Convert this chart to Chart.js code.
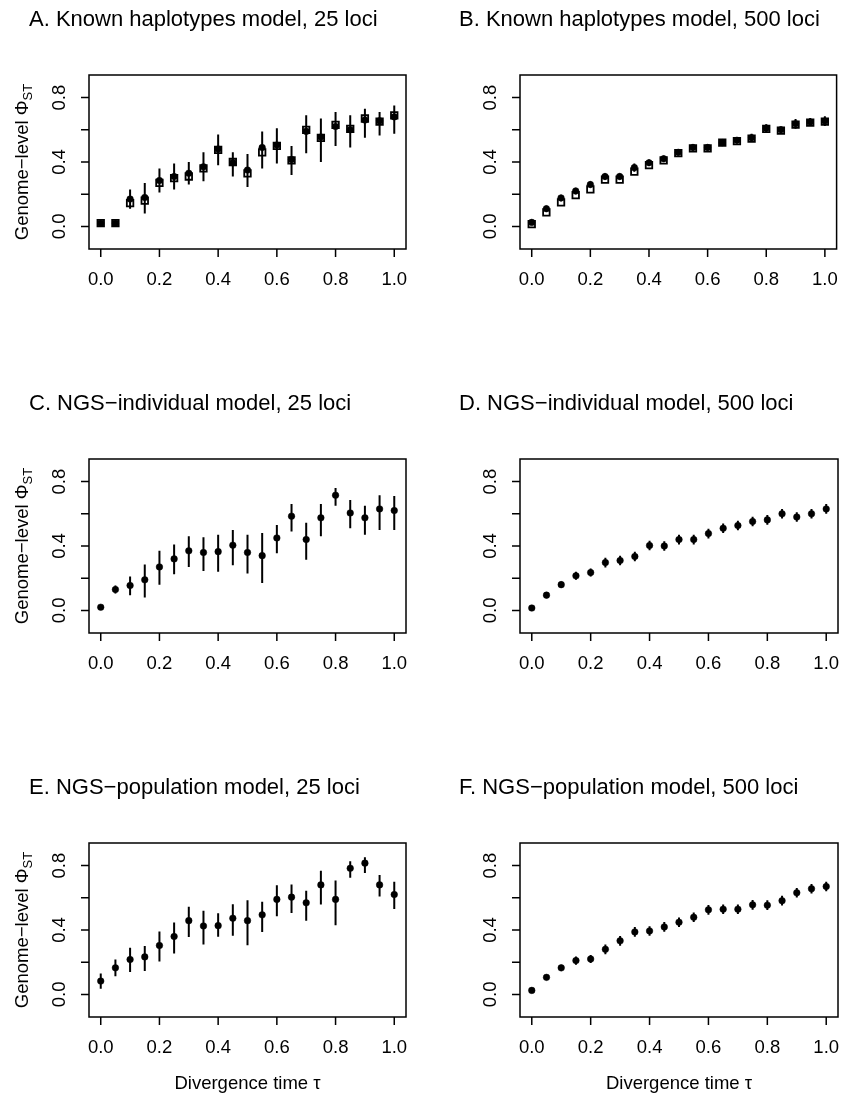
<!DOCTYPE html>
<html>
<head>
<meta charset="utf-8">
<script src="https://cdn.jsdelivr.net/npm/chart.js@4.4.1/dist/chart.umd.min.js"></script>
<style>
  body { margin: 0; background: #fff; }
  #wrap { position: relative; width: 843px; height: 1097px; }
  #wrap canvas { position: absolute; }
</style>
</head>
<body>
<div id="wrap"></div>
<script>
const FONT = '"Liberation Sans", Arial, Helvetica, sans-serif';

// divergence time values (x)
const tau = [0, 0.05, 0.1, 0.15, 0.2, 0.25, 0.3, 0.35, 0.4, 0.45, 0.5,
             0.55, 0.6, 0.65, 0.7, 0.75, 0.8, 0.85, 0.9, 0.95, 1.0];
const xTicks = [0, 0.2, 0.4, 0.6, 0.8, 1.0];
const yTicks = [0, 0.2, 0.4, 0.6, 0.8];
const yTickLabels = [0, 0.4, 0.8];

const titles = [
    'A. Known haplotypes model, 25 loci',
    'B. Known haplotypes model, 500 loci',
    'C. NGS\u2212individual model, 25 loci',
    'D. NGS\u2212individual model, 500 loci',
    'E. NGS\u2212population model, 25 loci',
    'F. NGS\u2212population model, 500 loci'
];

// A: 25 loci, known haplotypes
const aMean = [0.02, 0.02, 0.17, 0.18, 0.285, 0.31, 0.33, 0.37, 0.48, 0.395, 0.35,
               0.49, 0.505, 0.415, 0.59, 0.555, 0.62, 0.60, 0.66, 0.655, 0.68];
const aTrue = [0.02, 0.02, 0.145, 0.16, 0.27, 0.30, 0.31, 0.36, 0.475, 0.40, 0.33,
               0.46, 0.50, 0.41, 0.60, 0.55, 0.63, 0.605, 0.67, 0.65, 0.69];
const aLo = [0.015, 0.015, 0.11, 0.08, 0.21, 0.23, 0.26, 0.28, 0.38, 0.31, 0.245,
             0.36, 0.39, 0.32, 0.455, 0.40, 0.50, 0.49, 0.55, 0.565, 0.575];
const aHi = [0.025, 0.025, 0.23, 0.27, 0.36, 0.39, 0.40, 0.46, 0.57, 0.46, 0.45,
             0.59, 0.61, 0.50, 0.69, 0.67, 0.71, 0.69, 0.73, 0.71, 0.75];

// B: 500 loci, known haplotypes
const bMean = [0.025, 0.11, 0.177, 0.22, 0.26, 0.31, 0.31, 0.365, 0.395, 0.42, 0.46,
               0.49, 0.49, 0.52, 0.535, 0.55, 0.61, 0.60, 0.637, 0.648, 0.654];
const bTrue = [0.015, 0.087, 0.15, 0.195, 0.23, 0.29, 0.29, 0.34, 0.38, 0.41, 0.455,
               0.485, 0.485, 0.52, 0.53, 0.545, 0.605, 0.595, 0.632, 0.645, 0.65];
const bErr = [0.01, 0.02, 0.02, 0.02, 0.02, 0.02, 0.02, 0.025, 0.02, 0.02, 0.02,
              0.02, 0.02, 0.02, 0.02, 0.025, 0.025, 0.02, 0.03, 0.025, 0.03];

// C: 25 loci, NGS-individual
const cMean = [0.02, 0.13, 0.155, 0.19, 0.27, 0.32, 0.37, 0.36, 0.365, 0.405, 0.36,
               0.34, 0.45, 0.585, 0.44, 0.575, 0.715, 0.605, 0.575, 0.63, 0.62];
const cLo = [0.02, 0.105, 0.095, 0.08, 0.16, 0.225, 0.27, 0.245, 0.24, 0.28, 0.23,
             0.17, 0.355, 0.49, 0.315, 0.46, 0.65, 0.51, 0.47, 0.50, 0.50];
const cHi = [0.02, 0.155, 0.21, 0.285, 0.37, 0.41, 0.46, 0.455, 0.47, 0.50, 0.47,
             0.48, 0.53, 0.66, 0.545, 0.66, 0.76, 0.685, 0.65, 0.715, 0.71];

// D: 500 loci, NGS-individual
const dMean = [0.015, 0.095, 0.16, 0.215, 0.235, 0.297, 0.31, 0.335, 0.403, 0.40, 0.44,
               0.44, 0.477, 0.51, 0.527, 0.552, 0.562, 0.60, 0.58, 0.60, 0.63];
const dErr = [0.005, 0.02, 0.02, 0.025, 0.025, 0.03, 0.03, 0.03, 0.03, 0.03, 0.03,
              0.03, 0.03, 0.03, 0.03, 0.03, 0.03, 0.03, 0.03, 0.03, 0.03];

// E: 25 loci, NGS-population
const eMean = [0.083, 0.165, 0.217, 0.233, 0.304, 0.36, 0.458, 0.425, 0.427, 0.473, 0.458,
               0.494, 0.59, 0.604, 0.569, 0.68, 0.59, 0.783, 0.815, 0.68, 0.62];
const eLo = [0.035, 0.113, 0.14, 0.146, 0.204, 0.254, 0.356, 0.31, 0.358, 0.365, 0.306,
             0.388, 0.485, 0.506, 0.458, 0.558, 0.43, 0.725, 0.754, 0.608, 0.53];
const eHi = [0.13, 0.217, 0.29, 0.30, 0.39, 0.446, 0.544, 0.52, 0.504, 0.56, 0.585,
             0.575, 0.677, 0.683, 0.644, 0.767, 0.708, 0.827, 0.852, 0.742, 0.70];

// F: 500 loci, NGS-population
const fMean = [0.025, 0.106, 0.165, 0.21, 0.22, 0.28, 0.333, 0.388, 0.394, 0.419, 0.448,
               0.479, 0.525, 0.529, 0.529, 0.556, 0.554, 0.582, 0.631, 0.656, 0.67];
const fErr = [0.005, 0.015, 0.02, 0.025, 0.025, 0.03, 0.03, 0.03, 0.03, 0.03, 0.03,
              0.03, 0.03, 0.03, 0.03, 0.03, 0.03, 0.03, 0.03, 0.03, 0.03];

const lower = (m, e) => m.map((v, i) => v - e[i]);
const upper = (m, e) => m.map((v, i) => v + e[i]);

const panels = [
    { mean: aMean, ref: aTrue, lo: aLo, hi: aHi },
    { mean: bMean, ref: bTrue, lo: lower(bMean, bErr), hi: upper(bMean, bErr) },
    { mean: cMean, lo: cLo, hi: cHi },
    { mean: dMean, lo: lower(dMean, dErr), hi: upper(dMean, dErr) },
    { mean: eMean, lo: eLo, hi: eHi },
    { mean: fMean, lo: lower(fMean, fErr), hi: upper(fMean, fErr) }
];

// canvas placement for the two columns and three rows
const cols = [{ left: 0, width: 430, padL: 89, padR: 24, titleX: 29 },
              { left: 430, width: 413, padL: 90, padR: 5, titleX: 29 }];
const rows = [{ top: 0, height: 384 }, { top: 384, height: 384 }, { top: 768, height: 329 }];

const rAxes = {
    id: 'rAxes',
    beforeDatasetDraw(chart, args, opts) {
        // error bars go under the filled means, above the open squares
        if (args.index !== 0) return;
        const { ctx, scales: { x, y } } = chart;
        const p = opts.panel;
        ctx.save();
        ctx.strokeStyle = '#000';
        ctx.lineWidth = 2;
        ctx.beginPath();
        tau.forEach((t, i) => {
            const px = x.getPixelForValue(t);
            ctx.moveTo(px, y.getPixelForValue(p.lo[i]));
            ctx.lineTo(px, y.getPixelForValue(p.hi[i]));
        });
        ctx.stroke();
        ctx.restore();
    },
    afterDraw(chart, args, opts) {
        const { ctx, chartArea: a, scales: { x, y } } = chart;
        ctx.save();
        ctx.strokeStyle = '#000';
        ctx.fillStyle = '#000';
        ctx.lineWidth = 1.5;
        ctx.strokeRect(a.left, a.top, a.right - a.left, a.bottom - a.top);

        ctx.beginPath();
        xTicks.forEach(v => {
            const px = x.getPixelForValue(v);
            ctx.moveTo(px, a.bottom);
            ctx.lineTo(px, a.bottom + 8);
        });
        yTicks.forEach(v => {
            const py = y.getPixelForValue(v);
            ctx.moveTo(a.left, py);
            ctx.lineTo(a.left - 8, py);
        });
        ctx.stroke();

        ctx.font = '18.5px ' + FONT;
        ctx.textAlign = 'center';
        ctx.textBaseline = 'alphabetic';
        xTicks.forEach(v => {
            ctx.fillText(v.toFixed(1), x.getPixelForValue(v), a.bottom + 36);
        });
        yTickLabels.forEach(v => {
            ctx.save();
            ctx.translate(a.left - 24, y.getPixelForValue(v));
            ctx.rotate(-Math.PI / 2);
            ctx.fillText(v.toFixed(1), 0, 0);
            ctx.restore();
        });

        // panel title
        ctx.font = '22px ' + FONT;
        ctx.textAlign = 'left';
        ctx.fillText(opts.title, opts.titleX, a.top - 49);

        // y axis title on the left column
        if (opts.col === 0) {
            const main = 'Genome\u2212level \u03A6';
            const sub = 'ST';
            ctx.font = '18.5px ' + FONT;
            const w1 = ctx.measureText(main).width;
            ctx.font = '13px ' + FONT;
            const w2 = ctx.measureText(sub).width;
            const total = w1 + w2;
            ctx.save();
            ctx.translate(0, (a.top + a.bottom) / 2);
            ctx.rotate(-Math.PI / 2);
            ctx.font = '18.5px ' + FONT;
            ctx.fillText(main, -total / 2, 28);
            ctx.font = '13px ' + FONT;
            ctx.fillText(sub, -total / 2 + w1, 32);
            ctx.restore();
        }

        // x axis title on the bottom row
        if (opts.row === 2) {
            ctx.font = '18.5px ' + FONT;
            ctx.textAlign = 'center';
            ctx.fillText('Divergence time \u03C4', (a.left + a.right) / 2, a.bottom + 72);
        }
        ctx.restore();
    }
};

const wrap = document.getElementById('wrap');

panels.forEach((p, k) => {
    const col = k % 2, row = Math.floor(k / 2);
    const c = cols[col], r = rows[row];
    const canvas = document.createElement('canvas');
    canvas.width = c.width;
    canvas.height = r.height;
    canvas.style.left = c.left + 'px';
    canvas.style.top = r.top + 'px';
    wrap.appendChild(canvas);

    const datasets = [{
        label: 'estimate',
        data: tau.map((t, i) => ({ x: t, y: p.mean[i] })),
        pointStyle: 'circle',
        pointRadius: 3.3,
        pointBackgroundColor: '#000',
        pointBorderColor: '#000',
        pointBorderWidth: 0.5,
        showLine: false
    }];
    if (p.ref) {
        datasets.push({
            label: 'true',
            data: tau.map((t, i) => ({ x: t, y: p.ref[i] })),
            pointStyle: 'rect',
            pointRadius: 4.6,
            pointBackgroundColor: '#fff',
            pointBorderColor: '#000',
            pointBorderWidth: 1.8,
            showLine: false
        });
    }

    new Chart(canvas, {
        type: 'scatter',
        data: { datasets },
        options: {
            responsive: false,
            animation: false,
            devicePixelRatio: 1,
            layout: { padding: { left: c.padL, right: c.padR, top: 75, bottom: r.height - 249 } },
            scales: {
                x: { type: 'linear', min: -0.04, max: 1.04, display: false },
                y: { type: 'linear', min: -0.14, max: 0.94, display: false }
            },
            plugins: {
                legend: { display: false },
                tooltip: { enabled: false },
                rAxes: { panel: p, title: titles[k], titleX: c.titleX, col, row }
            }
        },
        plugins: [rAxes]
    });
});
</script>
</body>
</html>
